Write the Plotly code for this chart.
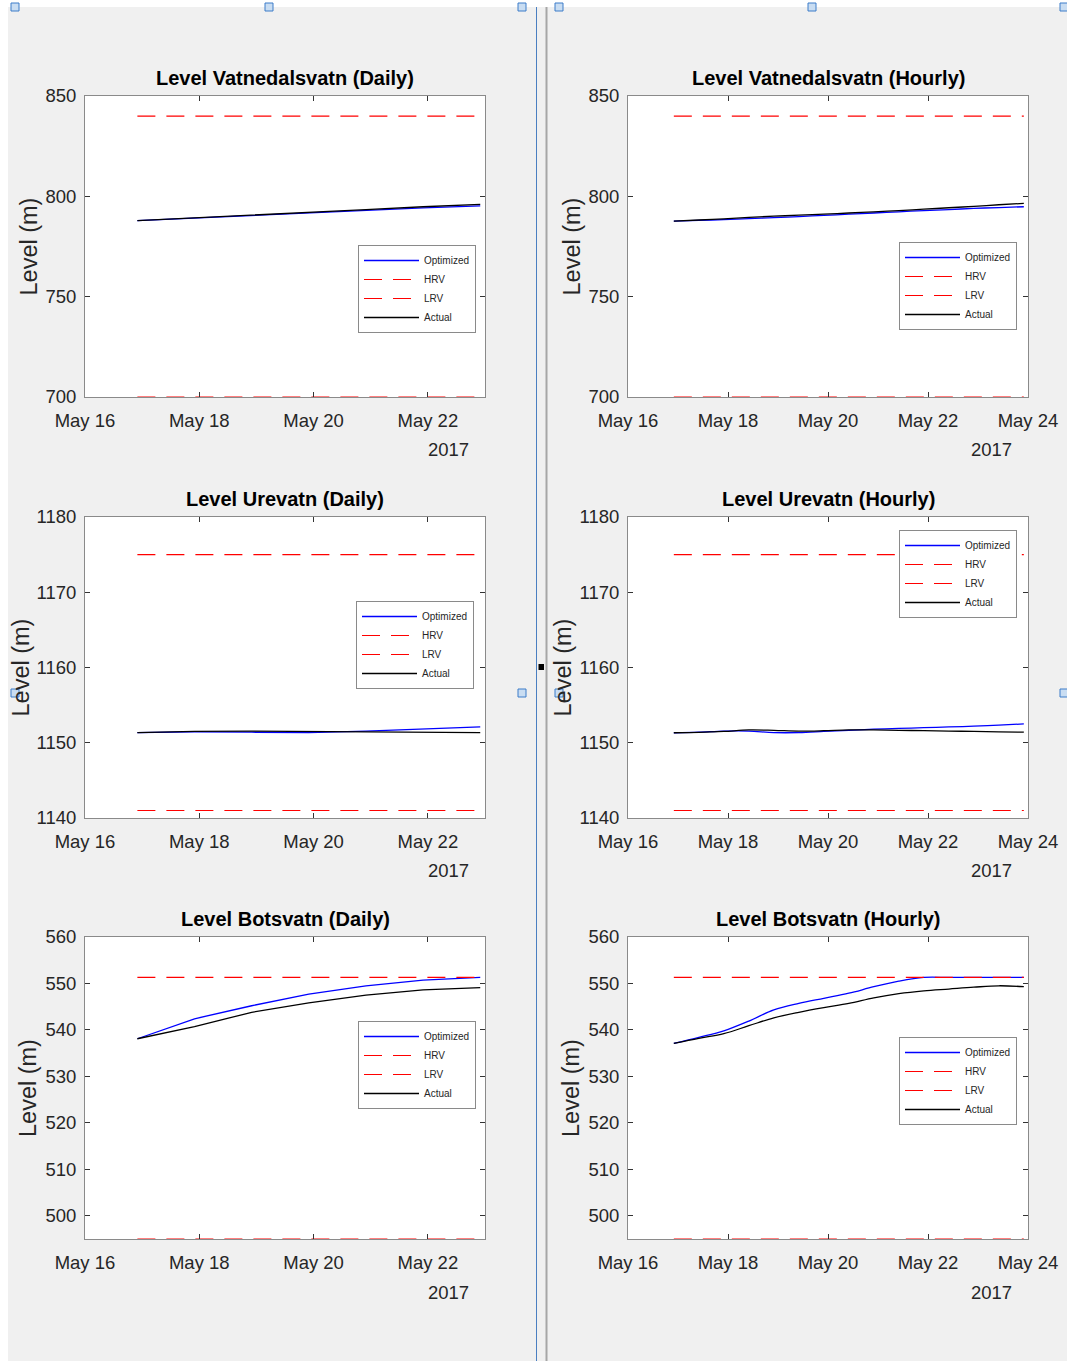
import plotly.graph_objects as go

# ---------------- data ----------------
daily_time = ["2017-05-16 22:00", "2017-05-17 22:00", "2017-05-18 22:00", "2017-05-19 22:00",
              "2017-05-20 22:00", "2017-05-21 22:00", "2017-05-22 22:00"]
hourly_time = ["2017-05-16 22:00", "2017-05-17 10:00", "2017-05-17 22:00", "2017-05-18 10:00",
               "2017-05-18 22:00", "2017-05-19 10:00", "2017-05-19 22:00", "2017-05-20 10:00",
               "2017-05-20 22:00", "2017-05-21 10:00", "2017-05-21 22:00", "2017-05-22 10:00",
               "2017-05-22 22:00", "2017-05-23 10:00", "2017-05-23 22:00"]

vatn_daily_opt = [787.9, 789.2, 790.5, 791.8, 793.1, 794.2, 795.2]
vatn_daily_act = [787.9, 789.2, 790.6, 792.0, 793.4, 794.8, 796.0]
vatn_hourly_opt = [787.6, 788.0, 788.4, 788.9, 789.4, 789.9, 790.5, 791.1, 791.7, 792.3,
                   792.9, 793.4, 794.0, 794.4, 794.8]
vatn_hourly_act = [787.6, 788.2, 788.8, 789.5, 790.1, 790.6, 791.1, 791.7, 792.3, 792.9,
                   793.6, 794.3, 795.0, 795.8, 796.5]
vatn_hrv, vatn_lrv = 840.0, 700.0

ure_daily_opt = [1151.35, 1151.45, 1151.4, 1151.35, 1151.55, 1151.8, 1152.1]
ure_daily_act = [1151.35, 1151.5, 1151.55, 1151.5, 1151.45, 1151.4, 1151.35]
ure_hourly_opt = [1151.33, 1151.4, 1151.55, 1151.55, 1151.35, 1151.35, 1151.5, 1151.65,
                  1151.8, 1151.9, 1152.0, 1152.1, 1152.2, 1152.35, 1152.5]
ure_hourly_act = [1151.33, 1151.38, 1151.5, 1151.7, 1151.65, 1151.55, 1151.6, 1151.7,
                  1151.7, 1151.65, 1151.6, 1151.55, 1151.5, 1151.45, 1151.4]
ure_hrv, ure_lrv = 1175.0, 1141.0

bots_daily_opt = [538.1, 542.4, 545.2, 547.7, 549.5, 550.7, 551.3]
bots_daily_act = [538.1, 540.7, 543.8, 545.8, 547.5, 548.6, 549.1]
bots_hourly_opt = [537.1, 538.4, 539.8, 541.9, 544.3, 545.7, 546.8, 547.9, 549.3, 550.5,
                   551.3, 551.3, 551.3, 551.3, 551.3]
bots_hourly_act = [537.1, 538.2, 539.2, 540.9, 542.6, 543.8, 544.8, 545.7, 546.9, 547.8,
                   548.4, 548.8, 549.2, 549.5, 549.3]
bots_hrv, bots_lrv = 551.3, 495.0

titles = ["Level Vatnedalsvatn (Daily)", "Level Vatnedalsvatn (Hourly)",
          "Level Urevatn (Daily)", "Level Urevatn (Hourly)",
          "Level Botsvatn (Daily)", "Level Botsvatn (Hourly)"]
series_names = ["Optimized", "HRV", "LRV", "Actual"]
daily_tickvals = ["2017-05-16", "2017-05-18", "2017-05-20", "2017-05-22"]
daily_ticktext = ["May 16", "May 18", "May 20", "May 22"]
hourly_tickvals = ["2017-05-16", "2017-05-18", "2017-05-20", "2017-05-22", "2017-05-24"]
hourly_ticktext = ["May 16", "May 18", "May 20", "May 22", "May 24"]
year_label = "2017"
ylabel = "Level (m)"
ticks_vatn = [700, 750, 800, 850]
ticks_ure = [1140, 1150, 1160, 1170, 1180]
ticks_bots = [500, 510, 520, 530, 540, 550, 560]

# ---------------- layout helpers ----------------
# the figure covers the whole window (page margin removed in post_script)
W, H = 1067, 1361
def fx(x): return x / W
def fy(y): return 1 - y / H

FONT = "Liberation Sans, Arial, Helvetica, sans-serif"
TICKSIZE = 18.5
TITLESIZE = 20

panels = [
    (daily_time, vatn_daily_opt, vatn_daily_act, vatn_hrv, vatn_lrv, (85, 485), (96, 397), [700, 850], ticks_vatn,
     ["2017-05-16", "2017-05-23"], daily_tickvals, daily_ticktext, (358, 245), 28),
    (hourly_time, vatn_hourly_opt, vatn_hourly_act, vatn_hrv, vatn_lrv, (628, 1028), (96, 397), [700, 850], ticks_vatn,
     ["2017-05-16", "2017-05-24"], hourly_tickvals, hourly_ticktext, (899, 242), 571),
    (daily_time, ure_daily_opt, ure_daily_act, ure_hrv, ure_lrv, (85, 485), (517, 818), [1140, 1180], ticks_ure,
     ["2017-05-16", "2017-05-23"], daily_tickvals, daily_ticktext, (356, 601), 20),
    (hourly_time, ure_hourly_opt, ure_hourly_act, ure_hrv, ure_lrv, (628, 1028), (517, 818), [1140, 1180], ticks_ure,
     ["2017-05-16", "2017-05-24"], hourly_tickvals, hourly_ticktext, (899, 530), 562),
    (daily_time, bots_daily_opt, bots_daily_act, bots_hrv, bots_lrv, (85, 485), (937, 1239), [495, 560], ticks_bots,
     ["2017-05-16", "2017-05-23"], daily_tickvals, daily_ticktext, (358, 1021), 28),
    (hourly_time, bots_hourly_opt, bots_hourly_act, bots_hrv, bots_lrv, (628, 1028), (937, 1239), [495, 560], ticks_bots,
     ["2017-05-16", "2017-05-24"], hourly_tickvals, hourly_ticktext, (899, 1037), 571),
]

fig = go.Figure()
layout = dict(
    template="none",
    width=W, height=H, margin=dict(l=0, r=0, t=0, b=0, pad=0), autosize=False,
    paper_bgcolor="#f0f0f0", plot_bgcolor="white",
    font=dict(family=FONT, color="#262626"),
    shapes=[], annotations=[], hovermode=False,
)

for i, (t, opt, act, hrv, lrv, xd, yd, yr, yt, xr, tv, tt, lg, ylx) in enumerate(panels):
    n = i + 1
    sfx = "" if n == 1 else str(n)
    xa, ya = "x" + sfx, "y" + sfx
    leg = "legend" + sfx
    traces = [
        (series_names[0], t, opt, dict(color="#0000ff", width=1.3)),
        (series_names[1], [t[0], t[-1]], [hrv, hrv], dict(color="#ff0000", width=1.2, dash="18px,11px")),
        (series_names[2], [t[0], t[-1]], [lrv, lrv], dict(color="#ff0000", width=1.2, dash="18px,11px")),
        (series_names[3], t, act, dict(color="#000000", width=1.3)),
    ]
    for name, xs, ys, ln in traces:
        fig.add_trace(go.Scatter(x=xs, y=ys, name=name, mode="lines", line=ln,
                                 line_shape="spline" if len(xs) > 7 else "linear",
                                 xaxis=xa, yaxis=ya, legend=leg, showlegend=True,
                                 hoverinfo="skip"))
    layout["xaxis" + sfx] = dict(
        domain=[fx(xd[0]), fx(xd[1])], anchor=ya, type="date", range=xr,
        tickvals=tv, ticktext=tt, ticks="inside", ticklen=5, tickcolor="#333",
        showline=True, linecolor="#8a8a8a", linewidth=1, mirror="allticks",
        showgrid=False, zeroline=False, ticklabelstandoff=7, automargin=False,
        tickfont=dict(size=TICKSIZE, family=FONT, color="#262626"),
    )
    layout["yaxis" + sfx] = dict(
        domain=[fy(yd[1]), fy(yd[0])], anchor=xa, range=yr, tickvals=yt,
        ticks="inside", ticklen=5, tickcolor="#333",
        showline=True, linecolor="#8a8a8a", linewidth=1, mirror="allticks",
        showgrid=False, zeroline=False, ticklabelstandoff=4, automargin=False,
        tickfont=dict(size=TICKSIZE, family=FONT, color="#262626"),
    )
    layout[leg] = dict(
        x=fx(lg[0]), y=fy(lg[1]), xanchor="left", yanchor="top",
        bgcolor="white", bordercolor="#8a8a8a", borderwidth=1,
        font=dict(size=10, family=FONT, color="#262626"), itemwidth=55,
        tracegroupgap=0, itemclick=False, itemdoubleclick=False,
    )
    cx = (xd[0] + xd[1]) / 2
    layout["annotations"].append(dict(
        text="<b>" + titles[i] + "</b>", x=fx(cx), y=fy(yd[0] - 18), xref="paper", yref="paper",
        showarrow=False, xanchor="center", yanchor="middle",
        font=dict(size=TITLESIZE, family=FONT, color="#000000")))
    layout["annotations"].append(dict(
        text=year_label, x=fx(xd[1] - 37), y=fy(yd[1] + 53), xref="paper", yref="paper",
        showarrow=False, xanchor="center", yanchor="middle",
        font=dict(size=TICKSIZE, family=FONT, color="#262626")))
    layout["annotations"].append(dict(
        text=ylabel, x=fx(ylx), y=fy((yd[0] + yd[1]) / 2), xref="paper", yref="paper",
        showarrow=False, xanchor="center", yanchor="middle", textangle=-90,
        font=dict(size=23.5, family=FONT, color="#262626")))

# window decorations (white outer border, splitter and resize handles)
shp = layout["shapes"]
shp.append(dict(type="rect", xref="paper", yref="paper", x0=0, x1=fx(8), y0=0, y1=1,
                fillcolor="white", line=dict(width=0), layer="below"))
shp.append(dict(type="rect", xref="paper", yref="paper", x0=0, x1=1, y0=fy(7), y1=1,
                fillcolor="white", line=dict(width=0), layer="below"))
shp.append(dict(type="line", xref="paper", yref="paper", x0=fx(536.5), x1=fx(536.5), y0=0, y1=fy(7),
                line=dict(color="#4a7fc1", width=1)))
shp.append(dict(type="line", xref="paper", yref="paper", x0=fx(546.5), x1=fx(546.5), y0=0, y1=fy(7),
                line=dict(color="#a6a6a6", width=2)))
for hx, hy in [(15, 7), (269, 7), (522, 7), (559, 7), (812, 7), (1064, 7),
               (15, 693), (522, 693), (559, 693), (1064, 693)]:
    shp.append(dict(type="rect", xref="paper", yref="paper",
                    x0=fx(hx - 4), x1=fx(hx + 4), y0=fy(hy + 4), y1=fy(hy - 4),
                    fillcolor="#c9ddf2", line=dict(color="#3d7cc9", width=1)))
shp.append(dict(type="rect", xref="paper", yref="paper",
                x0=fx(538.5), x1=fx(544), y0=fy(670), y1=fy(664),
                fillcolor="black", line=dict(width=0)))

fig.update_layout(**layout)
fig.write_html("out.html",
               config={"displayModeBar": False, "staticPlot": True},
               post_script="document.body.style.margin='0';"
                           "document.documentElement.style.overflow='hidden';")
